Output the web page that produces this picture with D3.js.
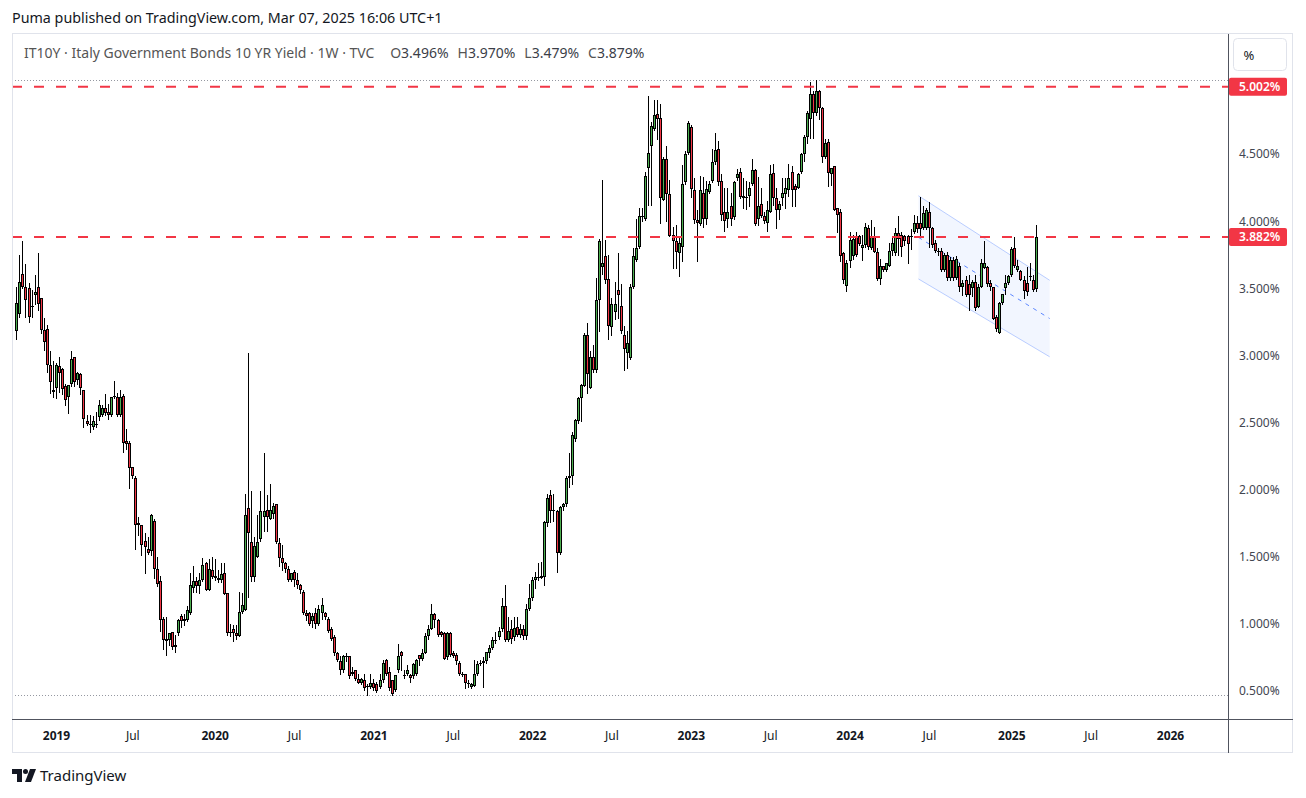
<!DOCTYPE html>
<html>
<head>
<meta charset="utf-8">
<script src="https://cdn.jsdelivr.net/npm/d3@7"></script>
<style>
  body { margin: 0; background: #fff; }
  svg { display: block; font-family: "Noto Sans", "Liberation Sans", sans-serif; }
</style>
</head>
<body>
<script>
// IT10Y weekly bars: [open, high, low, close]
const bars2018 = [
  [3.18,3.51,3.12,3.39],[3.31,3.75,3.29,3.55],[3.61,3.85,3.50,3.51],[3.51,3.68,3.29,3.41],
  [3.50,3.54,3.25,3.29],[3.36,3.49,3.29,3.37],[3.45,3.60,3.38,3.47],[3.51,3.76,3.34,3.38],
  [3.43,3.43,3.17,3.19],[3.19,3.28,3.04,3.10],[3.20,3.23,2.88,2.93],[2.93,3.03,2.72,2.80],
  [2.73,2.96,2.69,2.74]
];
const bars2019 = [
  [2.76,2.94,2.68,2.93],[2.92,2.99,2.73,2.87],[2.90,2.91,2.71,2.75],[2.77,2.79,2.63,2.67],
  [2.69,2.78,2.57,2.78],[2.79,3.03,2.77,2.97],[2.99,2.99,2.77,2.80],[2.82,2.88,2.79,2.87],
  [2.86,2.87,2.71,2.76],[2.74,2.74,2.47,2.53],[2.51,2.56,2.48,2.49],[2.49,2.56,2.43,2.48],
  [2.47,2.55,2.45,2.51],[2.49,2.58,2.47,2.48],[2.54,2.67,2.52,2.63],[2.56,2.63,2.55,2.61],
  [2.61,2.71,2.56,2.57],[2.58,2.64,2.53,2.56],[2.56,2.69,2.55,2.69],[2.69,2.81,2.68,2.70],
  [2.69,2.72,2.55,2.56],[2.56,2.74,2.55,2.69],[2.70,2.71,2.28,2.35],[2.36,2.45,2.30,2.34],
  [2.35,2.36,2.01,2.16],[2.17,2.17,2.09,2.10],[2.09,2.10,1.56,1.74],[1.74,1.80,1.66,1.75],
  [1.74,1.74,1.51,1.59],[1.62,1.68,1.38,1.57],[1.56,1.65,1.52,1.53],[1.54,1.82,1.51,1.81],
  [1.77,1.78,1.34,1.41],[1.41,1.50,1.28,1.30],[1.32,1.36,0.95,1.03],[1.04,1.05,0.81,0.88],
  [0.89,1.05,0.77,0.87],[0.88,0.93,0.84,0.93],[0.94,0.94,0.81,0.83],[0.83,0.92,0.79,0.84],
  [0.93,1.04,0.92,1.03],[1.06,1.07,0.98,1.02],[1.02,1.07,0.99,1.04],[1.03,1.13,1.02,1.10],
  [1.08,1.38,1.07,1.29],[1.27,1.43,1.24,1.32],[1.32,1.35,1.24,1.28],[1.28,1.38,1.23,1.33],
  [1.33,1.49,1.32,1.44],[1.45,1.46,1.25,1.25],[1.25,1.48,1.25,1.41],[1.40,1.50,1.34,1.35]
];
const bars2020 = [
  [1.36,1.48,1.33,1.34],[1.34,1.40,1.31,1.33],[1.33,1.45,1.31,1.37],[1.38,1.45,1.22,1.22],
  [1.23,1.23,0.92,0.93],[0.94,1.00,0.91,0.93],[0.96,0.99,0.87,0.93],[0.93,0.99,0.89,0.91],
  [0.91,1.24,0.91,1.09],[1.09,1.23,1.08,1.14],[1.10,1.97,1.10,1.81],[1.86,3.02,1.20,1.68],
  [1.61,1.99,1.32,1.35],[1.35,1.65,1.32,1.58],[1.50,1.81,1.50,1.61],[1.63,1.99,1.62,1.84],
  [1.80,2.27,1.69,1.84],[1.85,1.96,1.69,1.80],[1.78,2.04,1.78,1.85],[1.82,1.90,1.79,1.88],
  [1.89,1.89,1.60,1.61],[1.60,1.64,1.43,1.49],[1.49,1.59,1.40,1.45],[1.45,1.46,1.39,1.41],
  [1.41,1.43,1.32,1.33],[1.33,1.38,1.32,1.38],[1.39,1.40,1.28,1.33],[1.33,1.38,1.27,1.29],
  [1.29,1.30,1.23,1.25],[1.24,1.25,1.07,1.08],[1.08,1.10,1.03,1.06],[1.08,1.09,0.99,1.00],
  [1.02,1.08,0.98,1.06],[1.08,1.12,0.97,1.00],[1.00,1.14,0.99,1.11],[1.08,1.19,1.04,1.14],
  [1.08,1.09,1.04,1.05],[1.04,1.05,0.94,0.95],[0.96,0.98,0.88,0.89],[0.90,0.92,0.77,0.78],
  [0.78,0.79,0.72,0.73],[0.72,0.76,0.63,0.66],[0.66,0.77,0.64,0.76],[0.76,0.78,0.72,0.75],
  [0.76,0.76,0.60,0.61],[0.63,0.68,0.62,0.64],[0.66,0.66,0.58,0.59],[0.59,0.63,0.56,0.56],
  [0.56,0.60,0.55,0.59],[0.58,0.63,0.51,0.52],[0.54,0.55,0.47,0.53],[0.53,0.63,0.52,0.56]
];
const bars2021 = [
  [0.56,0.59,0.51,0.52],[0.55,0.57,0.49,0.50],[0.53,0.63,0.52,0.58],[0.58,0.73,0.57,0.71],
  [0.73,0.74,0.62,0.63],[0.64,0.68,0.51,0.52],[0.58,0.58,0.47,0.48],[0.51,0.62,0.50,0.62],
  [0.66,0.85,0.64,0.76],[0.79,0.80,0.66,0.76],[0.62,0.66,0.60,0.62],[0.63,0.69,0.62,0.66],
  [0.62,0.63,0.57,0.60],[0.61,0.71,0.60,0.70],[0.63,0.74,0.62,0.73],[0.77,0.77,0.69,0.74],
  [0.74,0.81,0.73,0.78],[0.78,0.93,0.78,0.91],[0.91,0.99,0.89,0.96],[0.96,1.15,0.96,1.07],
  [1.07,1.08,0.98,1.03],[1.03,1.04,0.91,0.92],[0.94,0.95,0.91,0.92],[0.93,0.94,0.74,0.74],
  [0.75,0.94,0.74,0.93],[0.93,0.94,0.76,0.77],[0.78,0.80,0.75,0.76],[0.77,0.78,0.70,0.72],
  [0.71,0.72,0.62,0.63],[0.63,0.64,0.61,0.63],[0.63,0.63,0.52,0.56],[0.56,0.58,0.53,0.56],
  [0.53,0.56,0.52,0.55],[0.54,0.73,0.54,0.63],[0.63,0.72,0.62,0.70],[0.70,0.73,0.69,0.71],
  [0.71,0.75,0.53,0.72],[0.72,0.79,0.71,0.79],[0.78,0.84,0.75,0.82],[0.82,0.90,0.81,0.88],
  [0.87,0.94,0.86,0.88],[0.90,0.98,0.89,0.95],[0.96,1.19,0.95,1.13],[1.13,1.29,0.87,0.88],
  [0.88,1.05,0.87,0.95],[0.96,1.03,0.86,0.89],[0.90,1.05,0.88,0.97],[0.98,1.05,0.91,0.92],
  [0.92,1.00,0.90,0.96],[0.96,0.99,0.89,0.91],[0.91,1.15,0.89,1.11],[1.11,1.30,1.10,1.19]
];
const bars2022 = [
  [1.19,1.35,1.18,1.33],[1.33,1.39,1.27,1.35],[1.35,1.45,1.33,1.34],[1.34,1.46,1.34,1.36],
  [1.35,1.77,1.29,1.76],[1.75,1.97,1.73,1.94],[1.96,2.00,1.76,1.84],[1.84,1.97,1.77,1.85],
  [1.84,1.85,1.39,1.53],[1.53,1.88,1.52,1.87],[1.87,1.90,1.85,1.89],[1.89,2.10,1.88,2.09],
  [2.09,2.27,2.02,2.10],[2.10,2.43,2.04,2.41],[2.38,2.53,2.36,2.52],[2.51,2.69,2.50,2.68],
  [2.68,2.79,2.51,2.78],[2.77,3.17,2.77,3.15],[3.15,3.24,2.72,2.86],[2.76,3.03,2.76,2.99],
  [2.99,3.08,2.88,2.89],[2.89,3.58,2.88,3.41],[3.41,3.87,3.18,3.85],[3.66,4.31,3.61,3.69],
  [3.74,3.86,3.54,3.56],[3.57,3.75,3.12,3.22],[3.21,3.43,3.15,3.38],[3.32,3.55,3.27,3.38],
  [3.49,3.76,3.28,3.45],[3.37,3.53,3.17,3.18],[3.15,3.22,2.89,3.05],[3.02,3.18,2.91,3.09],
  [2.98,3.53,2.97,3.51],[3.51,3.80,3.50,3.74],[3.71,4.02,3.70,3.80],[3.81,4.10,3.80,4.04],
  [4.04,4.10,4.00,4.03],[4.02,4.37,4.01,4.34],[4.40,4.93,4.12,4.51],[4.56,4.74,4.12,4.71],
  [4.69,4.90,4.68,4.79],[4.80,4.90,4.61,4.76],[4.77,4.87,3.99,4.17],[4.16,4.48,4.16,4.46],
  [4.46,4.56,4.00,4.20],[4.20,4.31,3.89,3.89],[3.90,3.96,3.65,3.85],[3.85,3.97,3.65,3.77],
  [3.76,3.89,3.59,3.84],[3.81,4.42,3.70,4.28],[4.29,4.52,4.28,4.50],[4.51,4.75,4.50,4.73]
];
const bars2023 = [
  [4.70,4.72,4.18,4.24],[4.23,4.32,3.99,4.01],[4.01,4.08,3.70,3.99],[3.98,4.34,3.97,4.23],
  [4.21,4.33,3.96,4.02],[4.02,4.30,3.98,4.24],[4.22,4.30,4.21,4.28],[4.30,4.54,4.29,4.44],
  [4.44,4.66,4.43,4.53],[4.54,4.60,4.27,4.29],[4.30,4.35,4.01,4.05],[4.07,4.25,3.93,4.00],
  [4.02,4.25,3.96,4.07],[4.11,4.21,3.97,4.02],[4.03,4.30,4.02,4.29],[4.32,4.39,4.31,4.35],
  [4.37,4.40,4.17,4.18],[4.19,4.32,4.10,4.17],[4.18,4.30,4.09,4.18],[4.19,4.29,4.11,4.25],
  [4.28,4.46,4.27,4.38],[4.38,4.39,3.97,3.98],[4.02,4.33,3.97,4.11],[4.13,4.25,4.03,4.04],
  [4.04,4.07,3.99,4.00],[3.99,4.15,3.93,4.08],[4.07,4.42,4.07,4.35],[4.36,4.43,4.12,4.17],
  [4.17,4.25,3.95,4.08],[4.08,4.15,4.02,4.13],[4.17,4.32,4.12,4.21],[4.20,4.32,4.10,4.25],
  [4.23,4.43,4.19,4.32],[4.37,4.41,4.11,4.23],[4.26,4.28,4.11,4.23],[4.25,4.36,4.25,4.35],
  [4.37,4.51,4.36,4.50],[4.50,4.64,4.45,4.63],[4.63,4.82,4.58,4.81],[4.76,5.04,4.62,4.95],
  [4.95,4.97,4.62,4.81],[4.81,5.05,4.79,4.97],[4.97,4.98,4.76,4.84],[4.84,4.85,4.44,4.48],
  [4.48,4.61,4.47,4.58],[4.59,4.61,4.26,4.36],[4.35,4.40,4.27,4.40],[4.41,4.41,4.08,4.08],
  [4.10,4.10,3.92,4.05],[4.07,4.09,3.70,3.74],[3.76,3.77,3.54,3.56],[3.52,3.71,3.48,3.69]
];
const bars2024 = [
  [3.70,3.92,3.66,3.86],[3.74,3.90,3.72,3.87],[3.89,3.92,3.74,3.75],[3.89,3.90,3.82,3.83],
  [3.80,3.90,3.71,3.82],[3.82,3.99,3.81,3.96],[3.95,3.97,3.79,3.81],[3.80,4.01,3.79,3.89],
  [3.89,3.96,3.77,3.77],[3.77,3.80,3.56,3.57],[3.57,3.72,3.53,3.67],[3.67,3.67,3.63,3.64],
  [3.64,3.69,3.63,3.69],[3.67,3.84,3.67,3.78],[3.78,3.89,3.75,3.84],[3.76,3.95,3.75,3.91],
  [3.91,4.04,3.75,3.87],[3.90,3.92,3.74,3.81],[3.89,3.90,3.82,3.85],[3.89,3.90,3.69,3.83],
  [3.88,3.94,3.79,3.89],[3.92,4.05,3.91,3.99],[3.99,4.04,3.92,3.94],[3.99,4.18,3.90,3.94],
  [3.95,4.11,3.94,4.06],[3.95,4.10,3.94,4.08],[4.07,4.14,3.81,3.95],[3.95,3.96,3.81,3.82],
  [3.84,3.86,3.77,3.78],[3.78,3.80,3.75,3.77],[3.78,3.80,3.63,3.64],[3.64,3.76,3.63,3.75],
  [3.75,3.77,3.56,3.58],[3.58,3.73,3.56,3.71],[3.71,3.73,3.56,3.58],[3.58,3.74,3.57,3.72],
  [3.67,3.69,3.48,3.51],[3.51,3.56,3.45,3.54],[3.56,3.59,3.44,3.45],[3.53,3.60,3.34,3.45],
  [3.50,3.56,3.44,3.55],[3.55,3.60,3.34,3.35],[3.36,3.53,3.36,3.51],[3.51,3.72,3.51,3.69],
  [3.65,3.85,3.65,3.69],[3.66,3.67,3.52,3.53],[3.54,3.56,3.49,3.51],[3.51,3.51,3.27,3.27],
  [3.29,3.30,3.18,3.20],[3.17,3.40,3.17,3.39],[3.39,3.46,3.38,3.46],[3.50,3.60,3.46,3.54],
  [3.54,3.60,3.53,3.59]
];
const bars2025 = [
  [3.60,3.81,3.59,3.79],[3.80,3.88,3.66,3.67],[3.64,3.71,3.63,3.67],[3.63,3.64,3.56,3.56],
  [3.56,3.59,3.43,3.48],[3.54,3.66,3.45,3.47],[3.59,3.69,3.56,3.59],[3.56,3.60,3.48,3.49],
  [3.496,3.970,3.479,3.879]
];
const firstBarDate = "2018-10-08";

// horizontal levels drawn on the chart
const levels = [5.002, 3.882];

// descending parallel channel
const channelDates = ["2024-06-07", "2025-04-04"];
const channelTop = [4.19, 3.56];
const channelBottom = [3.57, 2.99];

// axes
const priceTicks = [0.5, 1.0, 1.5, 2.0, 2.5, 3.0, 3.5, 4.0, 4.5];
const timeTicks = ["2019-01-07", "2019-07-01", "2020-01-06", "2020-07-06", "2021-01-04", "2021-07-05",
  "2022-01-03", "2022-07-04", "2023-01-02", "2023-07-03", "2024-01-01", "2024-07-01",
  "2025-01-06", "2025-07-07", "2026-01-05"];
const timeLabels = ["2019", "Jul", "2020", "Jul", "2021", "Jul", "2022", "Jul", "2023", "Jul",
  "2024", "Jul", "2025", "Jul", "2026"];

const width = 1306, height = 798;
const pane = { left: 12, top: 34, right: 1228, bottom: 719 };
const frameRight = 1293, frameBottom = 753;
const up = "#4caf50", down = "#f23645", levelColor = "#f23645";

const start = new Date(firstBarDate + "T00:00:00Z");
const bars = [...bars2018, ...bars2019, ...bars2020, ...bars2021, ...bars2022, ...bars2023, ...bars2024, ...bars2025]
  .map((b, i) => ({ date: d3.utcDay.offset(start, 7 * i), open: b[0], high: b[1], low: b[2], close: b[3] }));

const x = d3.scaleUtc()
    .domain([new Date("2019-01-07T00:00:00Z"), new Date("2026-01-05T00:00:00Z")])
    .range([56, 1170]);
const y = d3.scaleLinear()
    .domain([0.5, 5.0])
    .range([691, 87]);

const svg = d3.select("body").append("svg")
    .attr("width", width)
    .attr("height", height)
    .attr("viewBox", [0, 0, width, height]);

// header
svg.append("text")
    .attr("x", 12).attr("y", 23)
    .attr("font-size", 14.3).attr("fill", "#131722")
    .text("Puma published on TradingView.com, Mar 07, 2025 16:06 UTC+1");

// frame
svg.append("rect")
    .attr("x", pane.left + 0.5).attr("y", pane.top - 0.5)
    .attr("width", frameRight - pane.left - 1).attr("height", frameBottom - pane.top)
    .attr("fill", "#fff").attr("stroke", "#e0e3eb");

svg.append("clipPath").attr("id", "pane")
  .append("rect")
    .attr("x", pane.left + 1).attr("y", pane.top)
    .attr("width", pane.right - pane.left - 1).attr("height", pane.bottom - pane.top);

const chart = svg.append("g").attr("clip-path", "url(#pane)");

// channel
const cx0 = x(new Date(channelDates[0] + "T00:00:00Z")), cx1 = x(new Date(channelDates[1] + "T00:00:00Z"));
chart.append("path")
    .attr("d", `M${cx0},${y(channelTop[0])}L${cx1},${y(channelTop[1])}L${cx1},${y(channelBottom[1])}L${cx0},${y(channelBottom[0])}Z`)
    .attr("fill", "rgba(41,98,255,0.06)");
[channelTop, channelBottom].forEach(edge => {
  chart.append("line")
      .attr("x1", cx0).attr("y1", y(edge[0]))
      .attr("x2", cx1).attr("y2", y(edge[1]))
      .attr("stroke", "rgba(41,98,255,0.3)").attr("stroke-width", 1);
});
chart.append("line")
    .attr("x1", cx0).attr("y1", y((channelTop[0] + channelBottom[0]) / 2))
    .attr("x2", cx1).attr("y2", y((channelTop[1] + channelBottom[1]) / 2))
    .attr("stroke", "#2962ff").attr("stroke-opacity", 0.75).attr("stroke-width", 1)
    .attr("stroke-dasharray", "4,5");

// high / low of the visible range
const hi = d3.max(bars, d => d.high), lo = d3.min(bars, d => d.low);
[hi, lo].forEach(v => {
  chart.append("line")
      .attr("x1", pane.left).attr("x2", pane.right)
      .attr("y1", Math.round(y(v)) + 0.5).attr("y2", Math.round(y(v)) + 0.5)
      .attr("stroke", "#9598a1").attr("stroke-dasharray", "1,2");
});

// candles
const candle = chart.append("g").attr("shape-rendering", "crispEdges");
const px = d => Math.round(x(d.date));

candle.selectAll("line.wick")
  .data(bars)
  .join("line")
    .attr("class", "wick")
    .attr("x1", d => px(d) + 0.5).attr("x2", d => px(d) + 0.5)
    .attr("y1", d => Math.round(y(d.high))).attr("y2", d => Math.round(y(d.low)) + 1)
    .attr("stroke", "#000");

const bodyTop = d => Math.round(y(Math.max(d.open, d.close)));
const bodyH = d => Math.max(1, Math.round(y(Math.min(d.open, d.close))) - bodyTop(d));

candle.selectAll("rect.body")
  .data(bars)
  .join("rect")
    .attr("class", "body")
    .attr("x", d => px(d) - 1).attr("width", 3)
    .attr("y", bodyTop).attr("height", bodyH)
    .attr("fill", "#000");

candle.selectAll("rect.fill")
  .data(bars.filter(d => bodyH(d) > 2))
  .join("rect")
    .attr("class", "fill")
    .attr("x", d => px(d)).attr("width", 1)
    .attr("y", d => bodyTop(d) + 1).attr("height", d => bodyH(d) - 2)
    .attr("fill", d => d.close >= d.open ? up : down);

// horizontal levels
chart.selectAll("line.level")
  .data(levels)
  .join("line")
    .attr("class", "level")
    .attr("x1", pane.left).attr("x2", pane.right)
    .attr("y1", d => y(d)).attr("y2", d => y(d))
    .attr("stroke", levelColor).attr("stroke-width", 2)
    .attr("stroke-dasharray", "10,12");

// legend
const last = bars[bars.length - 1];
const legend = svg.append("text")
    .attr("x", 24).attr("y", 58)
    .attr("font-size", 14).attr("fill", "#555");
legend.append("tspan").text("IT10Y · Italy Government Bonds 10 YR Yield · 1W · TVC");
[["O", last.open], ["H", last.high], ["L", last.low], ["C", last.close]].forEach(([k, v], i) => {
  legend.append("tspan").attr("dx", i === 0 ? 16 : 9).text(k);
  legend.append("tspan").attr("fill", "#3b3e48").text(v.toFixed(3) + "%");
});

// separators
svg.append("line")
    .attr("x1", pane.right + 0.5).attr("x2", pane.right + 0.5)
    .attr("y1", pane.top).attr("y2", frameBottom)
    .attr("stroke", "#50535e");
svg.append("line")
    .attr("x1", pane.left).attr("x2", frameRight)
    .attr("y1", pane.bottom + 0.5).attr("y2", pane.bottom + 0.5)
    .attr("stroke", "#50535e");

// price axis
const yAxis = svg.append("g")
    .attr("transform", `translate(${pane.right},0)`)
    .call(d3.axisRight(y).tickValues(priceTicks).tickSize(0).tickPadding(11)
      .tickFormat(d => d.toFixed(3) + "%"));
yAxis.select(".domain").remove();
yAxis.selectAll("text")
    .attr("font-family", "Noto Sans, Liberation Sans, sans-serif")
    .attr("font-size", 12).attr("fill", "#434651");

// level labels on the price axis
const tag = svg.append("g").selectAll("g")
  .data(levels)
  .join("g")
    .attr("transform", d => `translate(${pane.right + 1},${y(d)})`);
tag.append("rect")
    .attr("x", 0).attr("y", -9).attr("width", 58).attr("height", 18).attr("rx", 2)
    .attr("fill", levelColor);
tag.append("text")
    .attr("x", 10).attr("dy", "0.35em")
    .attr("font-size", 12).attr("font-weight", 600).attr("fill", "#fff")
    .text(d => d.toFixed(3) + "%");

// percent button
svg.append("rect")
    .attr("x", 1233.5).attr("y", 38.5).attr("width", 53).attr("height", 32).attr("rx", 4)
    .attr("fill", "#fff").attr("stroke", "#e0e3eb");
svg.append("text")
    .attr("x", 1249).attr("y", 55).attr("dy", "0.35em")
    .attr("text-anchor", "middle").attr("font-size", 13).attr("fill", "#131722")
    .text("%");

// time axis
const xAxis = svg.append("g")
    .attr("transform", `translate(0,${pane.bottom})`)
    .call(d3.axisBottom(x)
      .tickValues(timeTicks.map(s => new Date(s + "T00:00:00Z")))
      .tickSize(0).tickPadding(12)
      .tickFormat((d, i) => timeLabels[i]));
xAxis.select(".domain").remove();
xAxis.selectAll("text")
    .attr("font-family", "Noto Sans, Liberation Sans, sans-serif")
    .attr("font-size", 12).attr("fill", "#131722")
    .attr("font-weight", (d, i) => timeLabels[i] === "Jul" ? 400 : 700);

// footer logo
const logo = svg.append("g").attr("fill", "#131722");
logo.append("path").attr("d", "M12 769h10v13h-5v-8h-5z");
logo.append("circle").attr("cx", 25.5).attr("cy", 771.5).attr("r", 2.5);
logo.append("path").attr("d", "M30 769h6l-5 13h-6z");
svg.append("text")
    .attr("x", 40).attr("y", 781)
    .attr("font-size", 15).attr("fill", "#131722")
    .text("TradingView");
</script>
</body>
</html>
